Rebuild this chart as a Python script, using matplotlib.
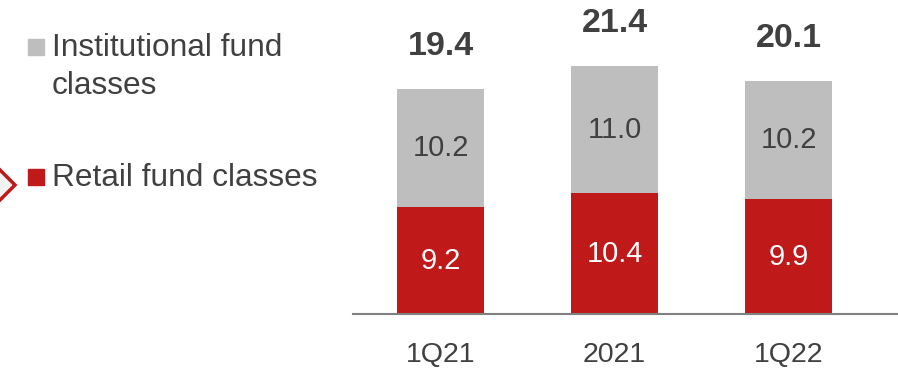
import matplotlib
matplotlib.use("Agg")
import matplotlib.pyplot as plt
from matplotlib.patches import Rectangle, Polygon

plt.rcParams['font.family'] = ['Liberation Sans', 'DejaVu Sans']

categories = ["1Q21", "2021", "1Q22"]
retail = [9.2, 10.4, 9.9]
institutional = [10.2, 11.0, 10.2]
totals = [19.4, 21.4, 20.1]

RED = "#C0191A"
GRAY = "#BEBEBE"
TEXT = "#404040"

W, H = 898, 375
fig = plt.figure(figsize=(W / 100, H / 100), dpi=100)

def fx(px):
    return px / W

def fy(py):
    return 1 - py / H

# plot area (pixel geometry)
left, right, base, top = 353, 898, 314, 0
ax = fig.add_axes([fx(left), fy(base), fx(right - left), (base - top) / H])

x = list(range(len(categories)))
ax.bar(x, retail, width=0.5, color=RED, zorder=2)
ax.bar(x, institutional, width=0.5, bottom=retail, color=GRAY, zorder=2)

ax.set_xlim(-0.503, 2.629)
ax.set_ylim(0, 27.07)

for xi, r, i, t in zip(x, retail, institutional, totals):
    ax.text(xi, r / 2, f"{r:.1f}", ha='center', va='center', color='white', fontsize=21)
    ax.text(xi, r + i / 2, f"{i:.1f}", ha='center', va='center', color=TEXT, fontsize=21)
    ax.annotate(f"{t:.1f}", (xi, r + i), xytext=(0, 30.5), textcoords='offset points',
                ha='center', va='center', color=TEXT, fontsize=24.5, fontweight='bold')

for s in ['top', 'right', 'left']:
    ax.spines[s].set_visible(False)
ax.spines['bottom'].set_color('#808080')
ax.spines['bottom'].set_linewidth(1.5)
ax.set_yticks([])
ax.set_xticks(x)
ax.set_xticklabels(categories, fontsize=20.5, color=TEXT)
ax.tick_params(axis='x', length=0, pad=20)

# legend on the left
fig.patches.append(Rectangle((fx(28), fy(55)), fx(16), 16 / H, transform=fig.transFigure,
                             color=GRAY, figure=fig))
fig.text(fx(52), fy(56), "Institutional fund", ha='left', va='baseline',
         fontsize=22.8, color=TEXT)
fig.text(fx(52), fy(94), "classes", ha='left', va='baseline',
         fontsize=22.8, color=TEXT)
fig.patches.append(Rectangle((fx(28), fy(185)), fx(16), 16 / H, transform=fig.transFigure,
                             color=RED, figure=fig))
fig.text(fx(52), fy(186), "Retail fund classes", ha='left', va='baseline',
         fontsize=22.8, color=TEXT)

# chevron marker at the left edge
fig.patches.append(Polygon([(fx(-2), fy(168)), (fx(15), fy(185)), (fx(-2), fy(202))],
                           closed=False, transform=fig.transFigure, facecolor='#F2F2F2',
                           edgecolor=RED, linewidth=2.5, figure=fig))

fig.savefig("out.png", dpi=100)
